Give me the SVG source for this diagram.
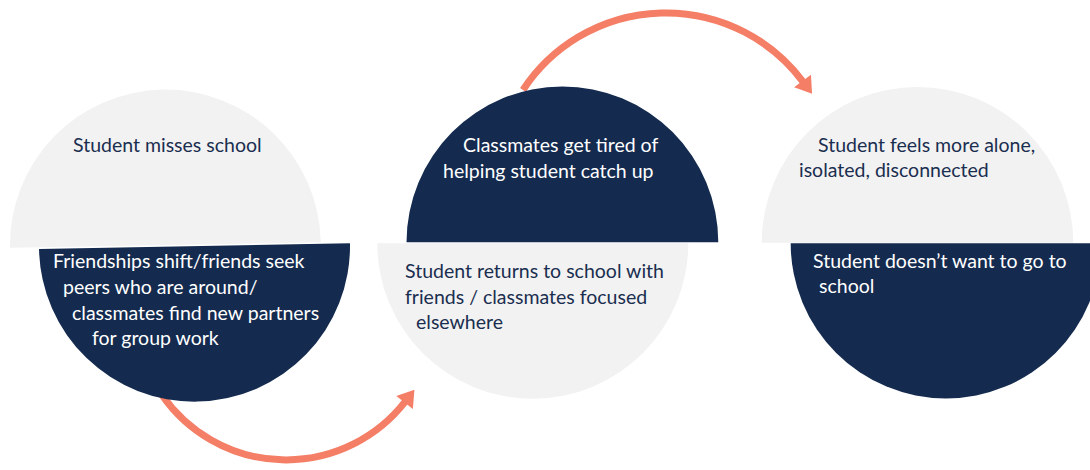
<svg xmlns="http://www.w3.org/2000/svg" width="1090" height="470" viewBox="0 0 1090 470">
  <defs>
    <style>
      .light { fill: #f2f2f2; }
      .dark { fill: #142b4f; }
      .t { font-family: Lato, "Open Sans", "Liberation Sans", sans-serif; font-size: 19.5px; }
      .t-dark { fill: #1a2e50; }
      .t-light { fill: #ffffff; }
      .flow { fill: none; stroke: #f47e66; stroke-width: 7; }
    </style>
    <marker id="head" markerUnits="userSpaceOnUse" markerWidth="22" markerHeight="24"
            viewBox="0 -12 18 24" refX="1" refY="0" orient="auto">
      <path d="M0,-10.5 L16,0 L0,10.5 Z" fill="#f47e66"/>
    </marker>
  </defs>

  <!-- curved arrows between the stages -->
  <g id="connectors">
    <path class="flow" d="M162,395 A151,151 0 0 0 405.2,401.7" marker-end="url(#head)"/>
    <path class="flow" d="M523,90 A171,171 0 0 1 803.1,81.8" marker-end="url(#head)"/>
  </g>

  <!-- stage 1 -->
  <g id="stage1">
    <path class="light" transform="rotate(-1 165.4 245)" d="M10,245 A155.4,155.4 0 0 1 320.8,245 Z"/>
    <path class="dark" transform="rotate(-1.05 194.5 246.2)" d="M39,246.2 A155.5,155.5 0 0 0 350,246.2 Z"/>
    <text class="t t-dark" x="73" y="152">Student misses school</text>
    <text class="t t-light">
      <tspan x="53" y="268">Friendships shift/friends seek</tspan>
      <tspan x="63" y="294">peers who are around/</tspan>
      <tspan x="72" y="320">classmates find new partners</tspan>
      <tspan x="92" y="345">for group work</tspan>
    </text>
  </g>

  <!-- stage 2 -->
  <g id="stage2">
    <path class="dark" d="M406.5,242.3 A155.9,155.9 0 0 1 718.3,242.3 Z"/>
    <path class="light" d="M377.3,243.3 A155.5,155.5 0 0 0 688.3,243.3 Z"/>
    <text class="t t-light">
      <tspan x="463" y="152">Classmates get tired of</tspan>
      <tspan x="443" y="178">helping student catch up</tspan>
    </text>
    <text class="t t-dark">
      <tspan x="405" y="278">Student returns to school with</tspan>
      <tspan x="405" y="304">friends / classmates focused</tspan>
      <tspan x="416" y="329">elsewhere</tspan>
    </text>
  </g>

  <!-- stage 3 -->
  <g id="stage3">
    <path class="light" d="M761.7,242.8 A155.8,155.8 0 0 1 1073.3,242.8 Z"/>
    <path class="dark" d="M790.7,243.3 A155.2,155.2 0 0 0 1101.1,243.3 Z"/>
    <text class="t t-dark">
      <tspan x="818" y="152">Student feels more alone,</tspan>
      <tspan x="799" y="177">isolated, disconnected</tspan>
    </text>
    <text class="t t-light">
      <tspan x="813" y="268">Student doesn’t want to go to</tspan>
      <tspan x="819" y="293">school</tspan>
    </text>
  </g>
</svg>
